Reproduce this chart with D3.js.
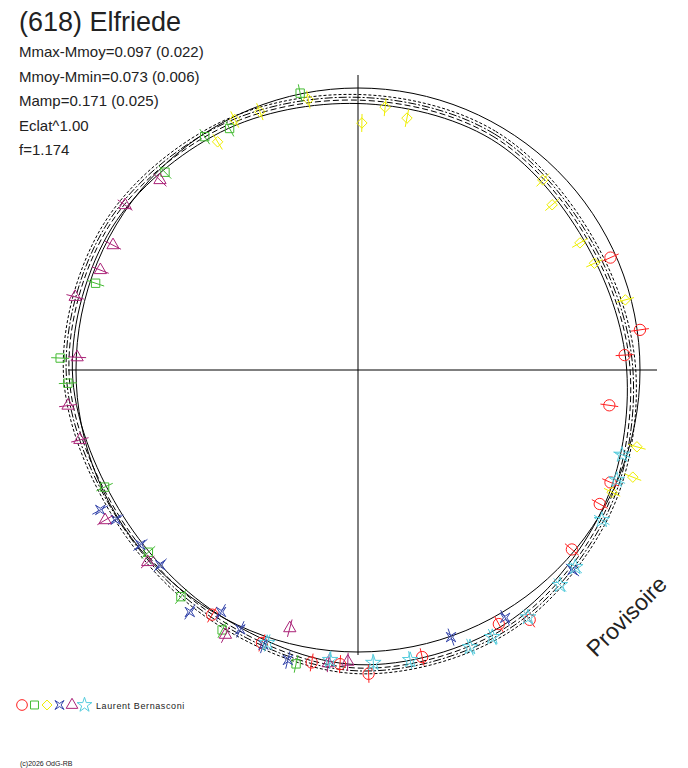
<!DOCTYPE html>
<html><head><meta charset="utf-8">
<script src="https://cdn.jsdelivr.net/npm/d3@7"></script>
<style>body{margin:0;background:#fff}svg{display:block;font-family:"Liberation Sans",Arial,sans-serif}</style>
</head><body><svg id="c" width="688" height="768"></svg>
<script>
// model curve radius (relative) at angle in degrees, clockwise from top
var modelAng = [0, 30, 60, 90, 120, 150, 180, 210, 240, 270, 300, 330];
var modelRad = [0.957, 0.957, 0.936, 0.965, 1.01, 1.053, 1.057, 1.01, 0.993, 1.025, 1.02, 0.986];
var modelShift = [-0.012, 0, 0.01, 0.02];
var modelDash = ["none", "6,3", "8,2,2,2", "3,2"];

// observations: [angle deg, radius]
var redCircle = [[81.9,1.01],[86.8,0.947],[66,0.98],[98,0.9],[114,0.98],[119,0.98],[130,0.99],[145.5,1.075],[151,1.03],[167.4,1.043],[178,1.078],[183.5,1.045],[189,1.05],[199.4,1.026],[210.8,1.01]];
var greenSquare = [[348.2,1.003],[326.7,0.99],[315.7,0.98],[288.3,0.98],[272.3,1.057],[267.4,1.03],[245.2,0.99],[229,0.985],[218,1.02],[207.6,1.04],[191.9,1.065],[332,0.97]];
var yellowDiamond = [[0.9,0.876],[328.4,0.95],[349.6,0.975],[5.9,0.937],[11,0.91],[44.2,0.94],[60.2,0.907],[65.7,0.92],[75.3,0.98],[105.4,1.026],[111.3,1.046],[115.7,1.0],[49.6,0.904],[339.2,0.98],[333.8,0.99]];
var blueX = [[241.5,1.04],[238.3,1.01],[225.4,0.985],[214.8,1.045],[209.5,0.986],[204.4,1.01],[199,1.03],[193.6,1.058],[160.8,1.003],[149.3,1.022],[133,1.04],[231.2,0.99]];
var purpleTri = [[305.3,1.012],[313.8,0.973],[297,0.975],[284.5,1.036],[272.6,0.997],[263,1.036],[255.9,1.017],[239.3,1.043],[227.6,1.01],[194.8,0.947],[206.6,1.05],[185.8,1.045],[182,1.035],[291.2,0.98]];
var cyanStar = [[185.5,1.033],[177,1.04],[169.8,1.045],[158,1.06],[153.3,1.06],[145.5,1.064],[136.8,1.046],[132.2,1.04],[121.6,1.015],[113,0.997],[107.8,0.983],[198.4,1.02]];

var statLines = ["Mmax-Mmoy=0.097 (0.022)", "Mmoy-Mmin=0.073 (0.006)", "Mamp=0.171 (0.025)", "Eclat^1.00", "f=1.174"];

var svg = d3.select("#c");
var cx = 358, cy = 370;
var r = d3.scaleLinear().domain([0, 1]).range([0, 282]);
var g = svg.append("g").attr("transform", "translate(" + cx + "," + cy + ")");

g.append("line").attr("x1", -290).attr("x2", 299).attr("y1", 0).attr("y2", 0).attr("stroke", "#000");
g.append("line").attr("x1", 0).attr("x2", 0).attr("y1", -295).attr("y2", 285).attr("stroke", "#000");
g.append("circle").attr("r", r(1)).attr("fill", "none").attr("stroke", "#000");

var rad = Math.PI / 180;
var line = d3.lineRadial().curve(d3.curveCardinalClosed);
modelShift.forEach(function (s, i) {
  g.append("path")
    .attr("d", line(modelAng.map(function (a, j) { return [a * rad, r(modelRad[j] + s)]; })))
    .attr("fill", "none").attr("stroke", "#000").attr("stroke-width", 1)
    .attr("stroke-dasharray", modelDash[i]);
});

// concave four-point star (the blue marker)
var symbolAstroid = {draw: function (ctx, size) {
  var s = Math.sqrt(size) / 2, k = s * 0.35;
  ctx.moveTo(-s, -s); ctx.lineTo(0, -k); ctx.lineTo(s, -s); ctx.lineTo(k, 0);
  ctx.lineTo(s, s); ctx.lineTo(0, k); ctx.lineTo(-s, s); ctx.lineTo(-k, 0); ctx.closePath();
}};
var symbolRhomb = {draw: function (ctx, size) {
  var s = Math.sqrt(size) / 1.6;
  ctx.moveTo(0, -s); ctx.lineTo(s, 0); ctx.lineTo(0, s); ctx.lineTo(-s, 0); ctx.closePath();
}};

var series = [
  {d: redCircle, t: d3.symbolCircle, c: "#ff2020", s: 100},
  {d: greenSquare, t: d3.symbolSquare, c: "#44bb33", s: 70},
  {d: yellowDiamond, t: symbolRhomb, c: "#eeee00", s: 70},
  {d: blueX, t: symbolAstroid, c: "#3344aa", s: 90},
  {d: purpleTri, t: d3.symbolTriangle, c: "#aa2277", s: 65},
  {d: cyanStar, t: d3.symbolStar, c: "#55ccdd", s: 75}
];
series.forEach(function (se) {
  var m = g.append("g").selectAll("g").data(se.d).enter().append("g")
    .attr("transform", function (d) {
      var a = d[0] * rad, rr = r(d[1]);
      return "translate(" + (rr * Math.sin(a)) + "," + (-rr * Math.cos(a)) + ")";
    });
  m.append("path").attr("d", d3.symbol().type(se.t).size(se.s))
    .attr("fill", "none").attr("stroke", se.c);
  m.append("line")
    .attr("x1", function (d) { return -9 * Math.sin(d[0] * rad); })
    .attr("y1", function (d) { return 9 * Math.cos(d[0] * rad); })
    .attr("x2", function (d) { return 9 * Math.sin(d[0] * rad); })
    .attr("y2", function (d) { return -9 * Math.cos(d[0] * rad); })
    .attr("stroke", se.c);
});

svg.append("text").attr("x", 19).attr("y", 31).attr("font-size", 27).attr("fill", "#222").text("(618) Elfriede");
statLines.forEach(function (t, i) {
  svg.append("text").attr("x", 19).attr("y", 57 + i * 24.6).attr("font-size", 15).attr("fill", "#222").text(t);
});

var lg = svg.append("g").attr("transform", "translate(22,705)");
series.forEach(function (se, i) {
  lg.append("path").attr("transform", "translate(" + (i * 12.5) + ",0)")
    .attr("d", d3.symbol().type(se.t).size(se.s * 0.9)).attr("fill", "none").attr("stroke", se.c);
});
lg.append("text").attr("x", 74).attr("y", 4).attr("font-size", 9).attr("letter-spacing", 0.6).attr("fill", "#222").text("Laurent Bernasconi");
svg.append("text").attr("x", 20).attr("y", 766).attr("font-size", 7).attr("fill", "#222").text("(c)2026 OdG-RB");
svg.append("text").attr("transform", "translate(596,658) rotate(-45)").attr("font-size", 23).attr("fill", "#222").text("Provisoire");
</script></body></html>
